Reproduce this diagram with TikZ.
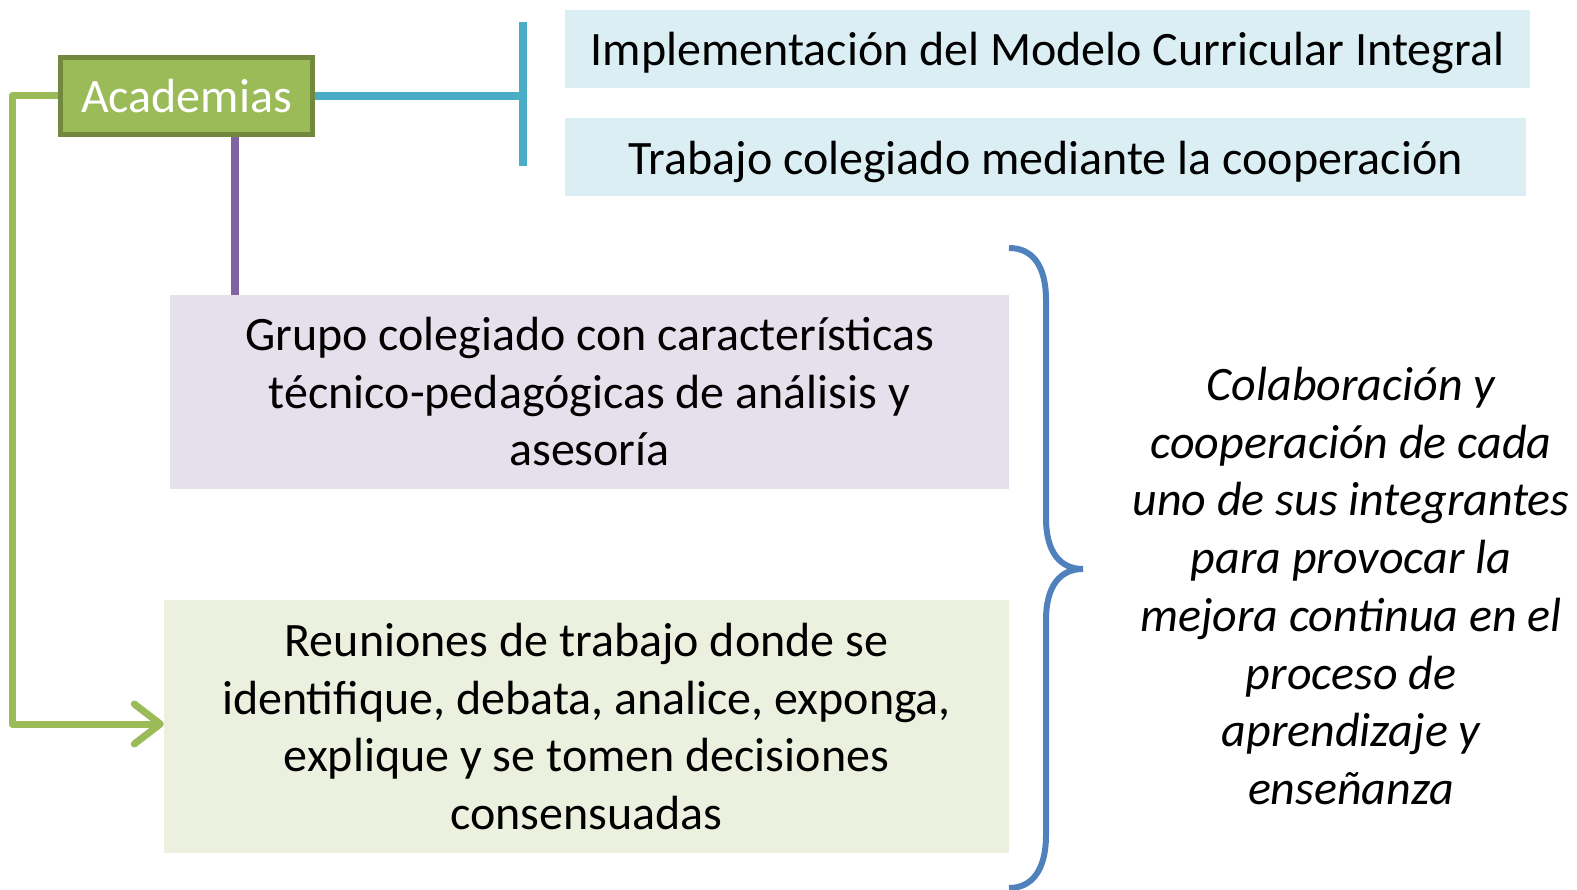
\documentclass[tikz,border=0pt]{standalone}
\usepackage{fontspec}
\setmainfont{Carlito}
\usetikzlibrary{arrows.meta}
\definecolor{cteal}{HTML}{4BACC6}
\definecolor{cpurp}{HTML}{8064A2}
\definecolor{cgreen}{HTML}{9BBB59}
\definecolor{cdgreen}{HTML}{71893F}
\definecolor{cblue}{HTML}{4F81BD}
\definecolor{lblue}{HTML}{DAEEF3}
\definecolor{lpurp}{HTML}{E5E0EC}
\definecolor{lgreen}{HTML}{EBF1DE}
\tikzset{
  txt/.style={font=\fontsize{48}{57.5}\selectfont, align=center, inner sep=0pt, text=black},
  topbox/.style={txt, fill=lblue, minimum height=78, text height=44pt, text depth=10pt},
  link/.style={line width=7.5pt},
}
\begin{document}
\begin{tikzpicture}[x=1pt,y=-1pt]
\useasboundingbox (0,0) rectangle (1577,890);
% boxes
\node[topbox, minimum width=965] (impl) at (1047.5,49) {Implementación del Modelo Curricular Integral};
\node[topbox, minimum width=961] (trab) at (1045.5,157.5) {Trabajo colegiado mediante la cooperación};
\node[txt, fill=lpurp, minimum width=839, minimum height=194] (grupo) at (589.5,392) {Grupo colegiado con características\\técnico-pedagógicas de análisis y\\asesoría};
\node[txt, fill=lgreen, minimum width=845, minimum height=253] (reun) at (586.5,726.5) {Reuniones de trabajo donde se\\identifique, debata, analice, exponga,\\explique y se tomen decisiones\\consensuadas};
\node[txt, font=\fontsize{48}{57.7}\selectfont\itshape] (colab) at (1351,586) {Colaboración y\\cooperación de cada\\uno de sus integrantes\\para provocar la\\mejora continua en el\\proceso de\\aprendizaje y\\enseñanza};
% Academias
\node[txt, fill=cgreen, draw=cdgreen, line width=5pt, minimum width=252, minimum height=77, text=white] (acad) at (186.5,96) {Academias};
% teal connector
\coordinate (tbar) at (523,96);
\coordinate (ttop) at (523,22);
\coordinate (tbot) at (523,166);
\draw[link, cteal] (acad.east) -- (tbar);
\draw[link, cteal] (ttop) -- (tbot);
% purple connector
\coordinate (pline) at (235,0);
\draw[link, cpurp] (acad.south -| pline) -- (grupo.north -| pline);
% green connector
\coordinate (gcorner) at (12,724);
\draw[line width=7pt, cgreen, line join=round, -{Straight Barb[length=26pt,width=40pt,round]}] (acad.west) -| (gcorner) -- (gcorner -| reun.west);
% brace
\draw[line width=6pt, cblue] (1009,248) .. controls (1032,248) and (1046,265) .. (1046,300) -- (1046,518) .. controls (1046,552) and (1060,569) .. (1083,569) .. controls (1060,569) and (1046,586) .. (1046,620) -- (1046,835) .. controls (1046,870) and (1032,888) .. (1009,888);
\end{tikzpicture}
\end{document}
